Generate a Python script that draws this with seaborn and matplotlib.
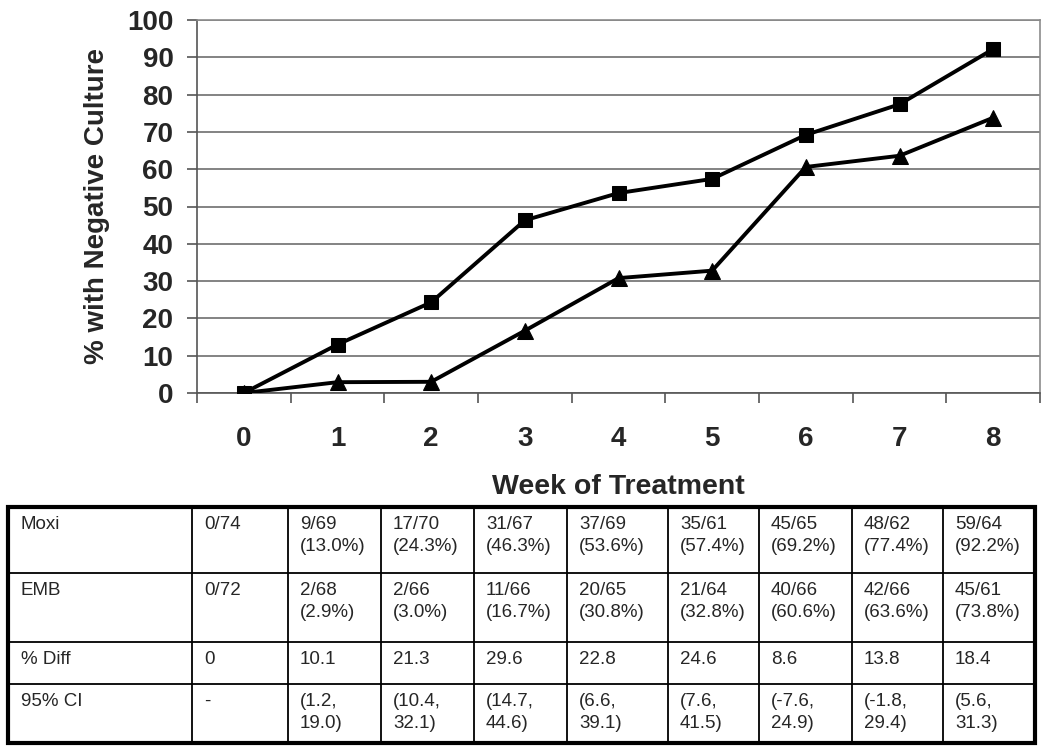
import matplotlib
matplotlib.use("Agg")
import matplotlib.pyplot as plt
import seaborn as sns
import pandas as pd
import numpy as np

weeks = [0, 1, 2, 3, 4, 5, 6, 7, 8]
moxi_pct = [0, 13.0, 24.3, 46.3, 53.6, 57.4, 69.2, 77.4, 92.2]
emb_pct = [0, 2.9, 3.0, 16.7, 30.8, 32.8, 60.6, 63.6, 73.8]

row_labels = ["Moxi", "EMB", "% Diff", "95% CI"]
moxi_cells = ["0/74", "9/69\n(13.0%)", "17/70\n(24.3%)", "31/67\n(46.3%)", "37/69\n(53.6%)",
              "35/61\n(57.4%)", "45/65\n(69.2%)", "48/62\n(77.4%)", "59/64\n(92.2%)"]
emb_cells = ["0/72", "2/68\n(2.9%)", "2/66\n(3.0%)", "11/66\n(16.7%)", "20/65\n(30.8%)",
             "21/64\n(32.8%)", "40/66\n(60.6%)", "42/66\n(63.6%)", "45/61\n(73.8%)"]
diff_cells = ["0", "10.1", "21.3", "29.6", "22.8", "24.6", "8.6", "13.8", "18.4"]
ci_cells = ["-", "(1.2,\n19.0)", "(10.4,\n32.1)", "(14.7,\n44.6)", "(6.6,\n39.1)",
            "(7.6,\n41.5)", "(-7.6,\n24.9)", "(-1.8,\n29.4)", "(5.6,\n31.3)"]

sns.set_style("white")
plt.rcParams['font.family'] = ['Liberation Sans', 'DejaVu Sans']

W, H = 1050, 754
fig = plt.figure(figsize=(W / 100, H / 100), dpi=100)

# ---- chart ----
L, R, T, B = 197, 1040, 20, 393
ax = fig.add_axes([L / W, 1 - B / H, (R - L) / W, (B - T) / H])

emb_df = pd.DataFrame({"week": weeks, "pct": emb_pct})
moxi_df = pd.DataFrame({"week": weeks, "pct": moxi_pct})
sns.lineplot(data=emb_df, x="week", y="pct", marker="^", color="black", lw=2.8,
             markersize=11, markeredgecolor="black", ax=ax, zorder=5)
sns.lineplot(data=moxi_df, x="week", y="pct", marker="s", color="black", lw=2.8,
             markersize=10.5, markeredgecolor="black", ax=ax, zorder=6)

ax.set_xlim(-0.5, 8.5)
ax.set_ylim(0, 100)
ax.set_yticks(range(0, 101, 10))
ax.set_xticks(weeks)
ax.set_xticks(np.arange(-0.5, 9, 1), minor=True)
ax.tick_params(axis="x", which="major", length=0, pad=24, labelsize=20)
ax.tick_params(axis="x", which="minor", length=7.5, width=1.2, color="#555555", direction="out", bottom=True)
ax.tick_params(axis="y", length=7, width=1.2, color="#555555", direction="out", left=True,
               pad=10, labelsize=20)
for lab in ax.get_xticklabels() + ax.get_yticklabels():
    lab.set_fontweight("bold")
ax.yaxis.grid(True, color="#6e6e6e", lw=1.2)
ax.set_axisbelow(True)
for s in ["top", "right"]:
    ax.spines[s].set_color("#8c8c8c")
    ax.spines[s].set_linewidth(1.2)
for s in ["left", "bottom"]:
    ax.spines[s].set_color("#555555")
    ax.spines[s].set_linewidth(1.2)
ax.set_xlabel("")
ax.set_ylabel("% with Negative Culture", fontsize=20, fontweight="bold", labelpad=12)
fig.text((L + R) / 2 / W, 1 - 487 / H, "Week of Treatment", ha="center", va="center",
         fontsize=20.5, fontweight="bold")

# ---- table ----
col_edges = [8, 192, 288, 381, 474, 567, 668, 759, 852, 943, 1035]
row_edges = [507, 573, 642, 684, 743]
tx = fig.add_axes([0, 0, 1, 1])
tx.set_xlim(0, W)
tx.set_ylim(H, 0)
tx.axis("off")
for x in col_edges[1:-1]:
    tx.plot([x, x], [row_edges[0], row_edges[-1]], color="black", lw=1.3)
for y in row_edges[1:-1]:
    tx.plot([col_edges[0], col_edges[-1]], [y, y], color="black", lw=1.3)
tx.add_patch(plt.Rectangle((col_edges[0], row_edges[0]), col_edges[-1] - col_edges[0],
                           row_edges[-1] - row_edges[0], fill=False, lw=3, ec="black"))
rows = [moxi_cells, emb_cells, diff_cells, ci_cells]
for i, (lab, cells) in enumerate(zip(row_labels, rows)):
    ytop = row_edges[i] + 9
    tx.text(col_edges[0] + 13, ytop, lab, ha="left", va="top", fontsize=13.5, linespacing=1.42)
    for j, c in enumerate(cells):
        tx.text(col_edges[j + 1] + 12, ytop, c, ha="left", va="top", fontsize=13.5, linespacing=1.42)

fig.savefig("out.png", dpi=100)
